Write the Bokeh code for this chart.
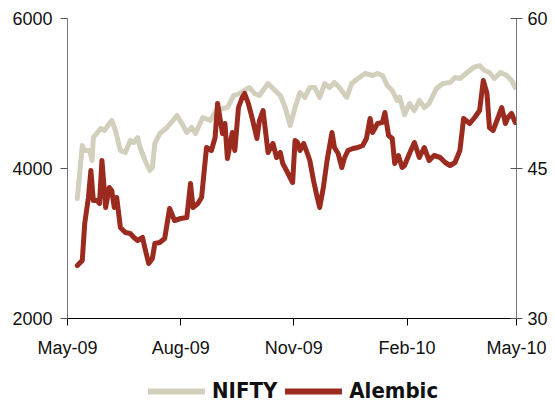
import pandas as pd
from bokeh.plotting import figure
from bokeh.layouts import column
from bokeh.models import (Range1d, LinearAxis, FixedTicker, DatetimeTickFormatter,
                          Legend, LegendItem, ColumnDataSource)
from bokeh.embed import file_html
from bokeh.resources import INLINE

# ---- data ----
nifty_dates = [
    "2009-05-09", "2009-05-13", "2009-05-15", "2009-05-19", "2009-05-21", "2009-05-22",
    "2009-05-28", "2009-05-31", "2009-06-04", "2009-06-06", "2009-06-09", "2009-06-13",
    "2009-06-17", "2009-06-21", "2009-06-24", "2009-06-27", "2009-06-29", "2009-07-03",
    "2009-07-07", "2009-07-09", "2009-07-11", "2009-07-15", "2009-07-21", "2009-07-29",
    "2009-08-02", "2009-08-06", "2009-08-10", "2009-08-13", "2009-08-19", "2009-08-25",
    "2009-08-30", "2009-09-04", "2009-09-08", "2009-09-13", "2009-09-18", "2009-09-24",
    "2009-09-26", "2009-09-30", "2009-10-04", "2009-10-11", "2009-10-15", "2009-10-21",
    "2009-10-25", "2009-10-29", "2009-11-02", "2009-11-06", "2009-11-10", "2009-11-14",
    "2009-11-18", "2009-11-22", "2009-11-26", "2009-11-30", "2009-12-04", "2009-12-08",
    "2009-12-14", "2009-12-18", "2009-12-23", "2009-12-29", "2010-01-04", "2010-01-08",
    "2010-01-12", "2010-01-16", "2010-01-20", "2010-01-24", "2010-01-26", "2010-01-30",
    "2010-02-03", "2010-02-07", "2010-02-11", "2010-02-15", "2010-02-19", "2010-02-25",
    "2010-03-02", "2010-03-08", "2010-03-12", "2010-03-16", "2010-03-22", "2010-03-27",
    "2010-04-01", "2010-04-05", "2010-04-09", "2010-04-13", "2010-04-18", "2010-04-23",
    "2010-04-27", "2010-04-30",
]
nifty = [
    3600, 4307, 4240, 4240, 4107, 4413,
    4533, 4507, 4600, 4640, 4507, 4240,
    4213, 4373, 4347, 4413, 4280, 4107,
    3973, 4013, 4333, 4467, 4547, 4707,
    4600, 4480, 4547, 4467, 4680, 4640,
    4773, 4800, 4813, 4973, 5000, 5067,
    5080, 5000, 4973, 5133, 5067, 4973,
    4813, 4573, 4813, 5013, 4947, 5080,
    5080, 4947, 5133, 5080, 5147, 5080,
    4947, 5133, 5200, 5267, 5240, 5267,
    5240, 5107, 5040, 4907, 4950, 4720,
    4867, 4773, 4907, 4813, 4867, 5067,
    5133, 5147, 5213, 5200, 5280, 5347,
    5373, 5307, 5280, 5200, 5280, 5240,
    5173, 5080,
]

alembic_dates = [
    "2009-05-09", "2009-05-13", "2009-05-15", "2009-05-18", "2009-05-20", "2009-05-22",
    "2009-05-25", "2009-05-27", "2009-05-29", "2009-06-01", "2009-06-04", "2009-06-06",
    "2009-06-08", "2009-06-10", "2009-06-13", "2009-06-17", "2009-06-21", "2009-06-24",
    "2009-06-27", "2009-07-01", "2009-07-03", "2009-07-06", "2009-07-09", "2009-07-11",
    "2009-07-15", "2009-07-19", "2009-07-23", "2009-07-27", "2009-08-01", "2009-08-06",
    "2009-08-09", "2009-08-11", "2009-08-15", "2009-08-18", "2009-08-22", "2009-08-26",
    "2009-08-29", "2009-08-31", "2009-09-04", "2009-09-06", "2009-09-08", "2009-09-12",
    "2009-09-14", "2009-09-17", "2009-09-20", "2009-09-22", "2009-09-25", "2009-09-28",
    "2009-10-02", "2009-10-04", "2009-10-07", "2009-10-11", "2009-10-15", "2009-10-18",
    "2009-10-21", "2009-10-23", "2009-10-26", "2009-10-31", "2009-11-02", "2009-11-04",
    "2009-11-06", "2009-11-09", "2009-11-12", "2009-11-14", "2009-11-17", "2009-11-20",
    "2009-11-22", "2009-11-25", "2009-11-28", "2009-12-02", "2009-12-04", "2009-12-07",
    "2009-12-10", "2009-12-12", "2009-12-15", "2009-12-19", "2009-12-23", "2009-12-27",
    "2009-12-30", "2010-01-02", "2010-01-04", "2010-01-08", "2010-01-12", "2010-01-14",
    "2010-01-17", "2010-01-20", "2010-01-22", "2010-01-25", "2010-01-28", "2010-01-30",
    "2010-02-03", "2010-02-07", "2010-02-11", "2010-02-15", "2010-02-19", "2010-02-23",
    "2010-02-28", "2010-03-04", "2010-03-08", "2010-03-12", "2010-03-16", "2010-03-19",
    "2010-03-24", "2010-03-28", "2010-04-01", "2010-04-04", "2010-04-07", "2010-04-09",
    "2010-04-12", "2010-04-16", "2010-04-19", "2010-04-22", "2010-04-24", "2010-04-27",
    "2010-04-30",
]
alembic = [
    35.3, 35.8, 39.5, 42.1, 44.8, 41.8,
    41.8, 41.5, 45.8, 41.1, 43.1, 42.8,
    41.1, 42.1, 39.1, 38.6, 38.5, 38.1,
    37.8, 38.1, 37.0, 35.5, 36.0, 37.5,
    37.6, 38.0, 41.0, 39.8, 40.0, 40.1,
    43.5, 41.1, 41.5, 42.1, 47.1, 46.8,
    48.1, 51.5, 48.5, 49.5, 46.0, 48.6,
    46.8, 51.1, 52.1, 52.5, 51.5, 50.1,
    48.0, 49.8, 50.8, 46.6, 47.5, 46.1,
    46.6, 45.5, 44.8, 43.6, 47.8, 47.6,
    46.8, 47.5, 46.5, 45.8, 43.8, 42.1,
    41.1, 43.1, 45.8, 48.6, 47.1, 46.5,
    45.1, 46.0, 46.8, 47.0, 47.1, 47.3,
    48.0, 50.0, 48.6, 49.5, 49.6, 50.6,
    48.3, 48.0, 45.5, 46.3, 45.1, 45.3,
    46.5, 47.6, 46.1, 47.1, 45.8, 46.3,
    46.1, 45.6, 45.3, 45.6, 46.8, 50.0,
    49.5, 50.1, 50.8, 53.8, 52.5, 49.1,
    48.8, 50.1, 51.1, 49.5, 50.1, 50.5,
    49.6,
]

series_names = ["NIFTY", "Alembic"]
tick_dates = ["2009-05-01", "2009-08-01", "2009-11-01", "2010-02-01", "2010-05-01"]
left_ticks = [2000, 4000, 6000]
right_ticks = [30, 45, 60]

FONT = "Liberation Sans"
LEGEND_FONT = "DejaVu Sans Condensed"
NIFTY_COLOR = "#D3CFBD"
ALEMBIC_COLOR = "#9B2A1F"

x_start = pd.Timestamp("2009-05-01")
x_end = pd.Timestamp("2010-05-01")

p = figure(width=555, height=360, x_axis_type="datetime",
           output_backend="svg", toolbar_location=None,
           x_range=Range1d(x_start, x_end), y_range=Range1d(2000, 6000),
           min_border_left=67, min_border_right=39, min_border_top=18,
           min_border_bottom=42)
p.extra_y_ranges = {"alembic": Range1d(30, 60)}
p.outline_line_color = None
p.xgrid.visible = False
p.ygrid.visible = False
p.background_fill_color = "white"
p.border_fill_color = "white"

src_n = ColumnDataSource(dict(x=pd.to_datetime(nifty_dates), y=nifty))
src_a = ColumnDataSource(dict(x=pd.to_datetime(alembic_dates), y=alembic))

r1 = p.line("x", "y", source=src_n, line_color=NIFTY_COLOR, line_width=5,
            line_join="round", line_cap="round")
r2 = p.line("x", "y", source=src_a, line_color=ALEMBIC_COLOR, line_width=5,
            line_join="round", line_cap="round", y_range_name="alembic")

# x axis
xa = p.xaxis[0]
xa.ticker = FixedTicker(ticks=[pd.Timestamp(d).value // 10**6 for d in tick_dates])
xa.formatter = DatetimeTickFormatter(days="%b-%y", months="%b-%y", years="%b-%y")
xa.minor_tick_line_color = None
xa.major_tick_out = 7
xa.major_tick_in = 0
xa.axis_line_color = "#000000"
xa.major_tick_line_color = "#000000"
xa.major_label_text_font = FONT
xa.major_label_text_font_size = "18px"
xa.major_label_text_color = "#111111"
xa.major_label_standoff = 12

# left axis
ya = p.yaxis[0]
ya.ticker = FixedTicker(ticks=left_ticks)
ya.minor_tick_line_color = None
ya.major_tick_out = 7
ya.major_tick_in = 0
ya.axis_line_color = "#777777"
ya.major_tick_line_color = "#555555"
ya.major_label_text_font = FONT
ya.major_label_text_font_size = "18px"
ya.major_label_text_color = "#111111"
ya.major_label_standoff = 8

# right axis
ra = LinearAxis(y_range_name="alembic", ticker=FixedTicker(ticks=right_ticks))
ra.minor_tick_line_color = None
ra.major_tick_out = 6
ra.major_tick_in = 6
ra.axis_line_color = "#777777"
ra.major_tick_line_color = "#555555"
ra.major_label_text_font = FONT
ra.major_label_text_font_size = "18px"
ra.major_label_text_color = "#111111"
ra.major_label_standoff = 5
p.add_layout(ra, "right")

# ---- legend strip below the chart (same sources, drawn outside its view) ----
lf = figure(width=555, height=43, output_backend="svg", toolbar_location=None,
            x_axis_location=None, y_axis_location=None,
            x_range=Range1d(0, 1), y_range=Range1d(0, 1),
            min_border=0, min_border_left=0, min_border_right=0,
            min_border_top=0, min_border_bottom=0)
lf.outline_line_color = None
lf.xgrid.visible = False
lf.ygrid.visible = False
ln = lf.line("x", "y", source=src_n, line_color=NIFTY_COLOR, line_width=6, line_cap="round")
la = lf.line("x", "y", source=src_a, line_color=ALEMBIC_COLOR, line_width=6, line_cap="round")

legend = Legend(items=[LegendItem(label=series_names[0], renderers=[ln]),
                       LegendItem(label=series_names[1], renderers=[la])],
                orientation="horizontal", location=(81, 0),
                label_text_font=LEGEND_FONT, label_text_font_style="bold",
                label_text_font_size="22px", label_text_color="#111111",
                glyph_width=57, glyph_height=20, spacing=8, padding=0, margin=0,
                label_standoff=7,
                border_line_color=None, background_fill_alpha=0)
lf.add_layout(legend, "center")

layout = column(p, lf, spacing=0)
open("out.html", "w").write(file_html(layout, INLINE))
